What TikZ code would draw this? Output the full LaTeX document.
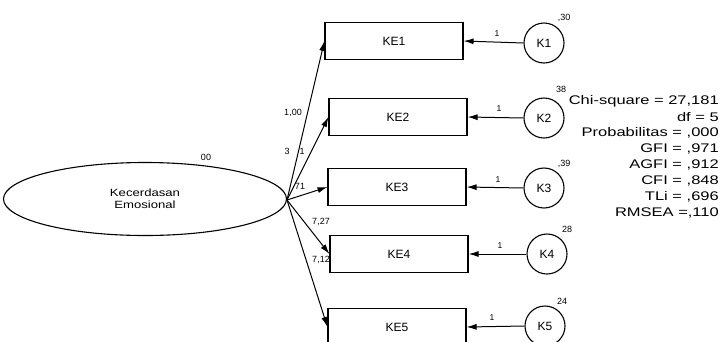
\documentclass[tikz,border=0pt]{standalone}
\usepackage{fontspec}
\setmainfont{Liberation Sans}
\usetikzlibrary{arrows.meta,shapes.geometric}
\newcommand{\wide}[2]{\scalebox{#1}[1]{#2}}
\begin{document}
\begin{tikzpicture}[x=1pt,y=-1pt,
  obs/.style={draw,line width=1.1pt,minimum width=138pt,minimum height=37pt,inner sep=0pt,font=\fontsize{12}{13}\selectfont},
  err/.style={draw,circle,line width=1.1pt,minimum size=40pt,inner sep=0pt,font=\fontsize{12}{13}\selectfont},
  lat/.style={draw,ellipse,line width=1.1pt,minimum width=283pt,minimum height=73pt,inner sep=0pt,align=center,font=\fontsize{10.5}{12}\selectfont},
  arr/.style={-{Latex[length=10pt,width=6pt]},line width=1pt},
  lbl/.style={inner sep=0pt,font=\fontsize{9}{10}\selectfont},
  one/.style={inner sep=0pt,font=\fontsize{8.5}{9}\selectfont},
  fit/.style={inner sep=0pt,anchor=east,font=\fontsize{12.5}{14}\selectfont}]
\useasboundingbox (0,0) rectangle (722,341);
\node[lat] (E) at (145,199) {\wide{1.25}{Kecerdasan}\\\wide{1.25}{Emosional}};
\coordinate (A) at (287,200);
\node[obs] (KE1) at (394,41) {KE1};
\node[obs] (KE2) at (398,117) {KE2};
\node[obs] (KE3) at (397,187) {KE3};
\node[obs] (KE4) at (399,254) {KE4};
\node[obs] (KE5) at (397,327) {KE5};
\node[err] (K1) at (544,43) {K1};
\node[err] (K2) at (544,118) {K2};
\node[err] (K3) at (544,188) {K3};
\node[err] (K4) at (547,254) {K4};
\node[err] (K5) at (545,326) {K5};
\foreach \i in {1,...,5}{
  \draw[arr] (A) -- (KE\i.west);
  \draw[arr] (K\i.west) -- (KE\i.east);
}
\node[one] (l1) at (497,34) {1};
\node[one] (l2) at (499,109) {1};
\node[one] (l3) at (498,180) {1};
\node[one] (l4) at (500,246) {1};
\node[one] (l5) at (492,318) {1};
\node[lbl] (v1) at (564,18) {,30};
\node[lbl] (v2) at (561,89) {38};
\node[lbl] (v3) at (564,164) {,39};
\node[lbl] (v4) at (567,229) {28};
\node[lbl] (v5) at (562,301) {24};
\node[lbl] (v0) at (206,157) {00};
\node[lbl] (w1) at (293,113) {1,00};
\node[lbl] (w2a) at (287,151) {3};
\node[lbl] (w2b) at (302,151) {1};
\node[lbl] (w3) at (300,186) {71};
\node[lbl] (w4) at (321,222) {7,27};
\node[lbl] (w5) at (321,260) {7,12};
\node[fit] (f1) at (719,101) {\wide{1.32}{Chi-square = 27,181}};
\node[fit] (f2) at (719,117) {\wide{1.32}{df = 5}};
\node[fit] (f3) at (719,133) {\wide{1.32}{Probabilitas = ,000}};
\node[fit] (f4) at (719,149) {\wide{1.32}{GFI = ,971}};
\node[fit] (f5) at (719,165) {\wide{1.32}{AGFI = ,912}};
\node[fit] (f6) at (719,181) {\wide{1.32}{CFI = ,848}};
\node[fit] (f7) at (719,197) {\wide{1.32}{TLi = ,696}};
\node[fit] (f8) at (719,213) {\wide{1.32}{RMSEA =,110}};
\end{tikzpicture}
\end{document}
